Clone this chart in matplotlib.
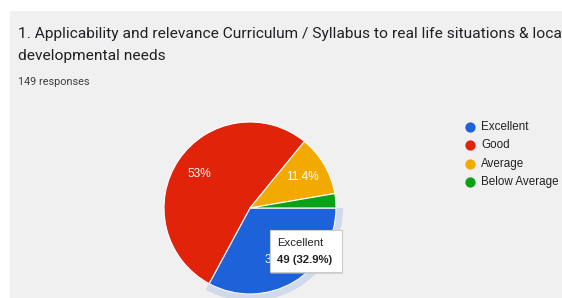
import matplotlib
matplotlib.use("Agg")
import matplotlib.pyplot as plt
from matplotlib.patches import Rectangle, Wedge

# ---- data ----
categories = ["Excellent", "Good", "Average", "Below Average"]
counts = [49, 79, 17, 4]
colors = ["#1d62d8", "#e02309", "#f2aa00", "#0aa116"]
title_lines = ["1. Applicability and relevance Curriculum / Syllabus to real life situations & local",
               "developmental needs"]
responses_text = "149 responses"
hover_index = 0

W, H = 562, 298
plt.rcParams['font.family'] = ['Roboto', 'DejaVu Sans']
ARIAL = ['Liberation Sans', 'DejaVu Sans']
fig = plt.figure(figsize=(W / 100, H / 100), dpi=100, facecolor="white")
ax = fig.add_axes([0, 0, 1, 1])


def Y(y):
    return H - y


# pie
cx, cy, r = 250, Y(208), 86
total = sum(counts)


def fmt(p):
    if p < 5:
        return ""
    s = f"{p:.1f}"
    if s.endswith(".0"):
        s = s[:-2]
    return s + "%"


wedges, texts, autotexts = ax.pie(counts, colors=colors, startangle=0, counterclock=False,
                                  center=(cx, cy), radius=r, autopct=fmt, pctdistance=0.71,
                                  wedgeprops=dict(edgecolor="white", linewidth=0.8),
                                  textprops=dict(color="white", fontsize=8.6, family=ARIAL))
for t in autotexts:
    t.set_zorder(3)

ax.set_xlim(0, W)
ax.set_ylim(0, H)
ax.set_aspect("equal")
ax.axis("off")

# card background
ax.add_patch(Rectangle((10, 0), W - 10, Y(11), facecolor="#f0f0f0", edgecolor="none", zorder=0))

# titles
ax.text(18, Y(34), title_lines[0], fontsize=11.15, color="#202124", va="center", ha="left", zorder=2)
ax.text(18, Y(56), title_lines[1], fontsize=11.15, color="#202124", va="center", ha="left", zorder=2)
ax.text(18, Y(82), responses_text, fontsize=7.8, color="#3c4043", va="center", ha="left", zorder=2)

# hover halo on the highlighted slice
w = wedges[hover_index]
ax.add_patch(Wedge((cx, cy), r + 7, w.theta1, w.theta2, width=6.5,
                   facecolor="#cbd7ea", edgecolor="none", alpha=0.85, zorder=1))

# tooltip
tx0, ty0, tx1, ty1 = 270, 230, 342, 272
ax.add_patch(Rectangle((tx0 + 1, Y(ty1) - 1.5), tx1 - tx0, ty1 - ty0, facecolor="#bbbbbb",
                       edgecolor="none", alpha=0.5, zorder=4))
ax.add_patch(Rectangle((tx0, Y(ty1)), tx1 - tx0, ty1 - ty0, facecolor="white",
                       edgecolor="#cccccc", linewidth=0.8, zorder=5))
pct = counts[hover_index] / total * 100
ax.text(277, Y(243), categories[hover_index], fontsize=8.2, color="#222222", family=ARIAL,
        va="center", ha="left", zorder=6)
ax.text(277, Y(260), f"{counts[hover_index]} ({pct:.1f}%)", fontsize=8.2, color="#222222",
        family=ARIAL, fontweight="bold", va="center", ha="left", zorder=6)

# legend
for i, (lab, col) in enumerate(zip(categories, colors)):
    yy = Y(127 + 18.4 * i)
    ax.plot(470, yy, "o", ms=7.4, color=col, mec="none", zorder=3)
    ax.text(481, yy, lab, fontsize=8.4, color="#222222", family=ARIAL,
            va="center", ha="left", zorder=3)

fig.savefig("out.png", dpi=100, facecolor="white")
